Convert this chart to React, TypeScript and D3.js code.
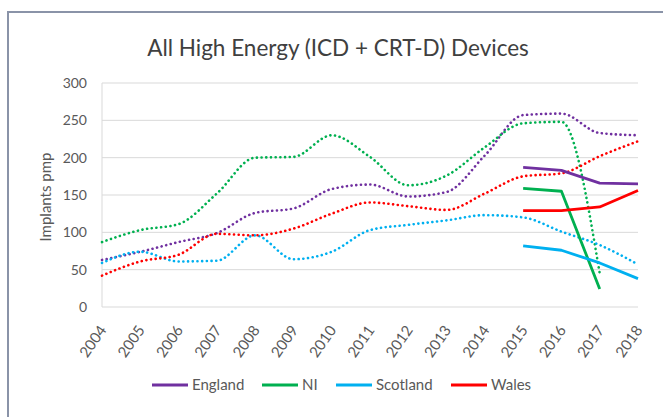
import React from "react";
import * as d3 from "d3";

const years = ["2004", "2005", "2006", "2007", "2008", "2009", "2010", "2011", "2012", "2013", "2014", "2015", "2016", "2017", "2018"];
const yTicks = [0, 50, 100, 150, 200, 250, 300];

// dotted series: 2004-2018
const englandDotted = [63, 74, 87, 99, 126, 132, 158, 164, 148, 154, 203, 257, 259, 233, 230];
const niDotted = [87, 103, 111, 152, 200, 201, 230, 201, 163, 176, 214, 246, 248, 45, null];
const scotlandDotted = [59, 74, 61, 62, 96, 64, 74, 103, 110, 116, 123, 120, 101, 83, 57];
const walesDotted = [42, 61, 70, 98, 96, 105, 125, 140, 135, 130, 152, 175, 179, 202, 222];

// solid series: 2015-2018
const solidYears = ["2015", "2016", "2017", "2018"];
const englandSolid = [187, 183, 166, 165];
const niSolid = [159, 155, 24, null];
const scotlandSolid = [82, 76, 59, 38];
const walesSolid = [129, 129, 134, 156];

const seriesNames = ["England", "NI", "Scotland", "Wales"];
const colors = ["#7030A0", "#00B050", "#00B0F0", "#FF0000"];

const FONT = "Lato, 'Open Sans', sans-serif";

export default function App() {
  const x = d3.scalePoint<string>().domain(years).range([102, 638]);
  const y = d3.scaleLinear().domain([0, 300]).range([307, 83]);

  const dottedLine = d3
    .line<number | null>()
    .defined((d) => d != null)
    .x((_, i) => x(years[i]) as number)
    .y((d) => y(d as number))
    .curve(d3.curveMonotoneX);

  const solidLine = d3
    .line<number | null>()
    .defined((d) => d != null)
    .x((_, i) => x(solidYears[i]) as number)
    .y((d) => y(d as number));

  const dotted = [englandDotted, niDotted, scotlandDotted, walesDotted];
  const solid = [englandSolid, niSolid, scotlandSolid, walesSolid];

  const legendX = [152, 262, 336, 451];

  return (
    <svg width={663} height={417} style={{ position: "absolute", left: 0, top: 0, background: "#fff" }}>
      <rect x={0} y={0} width={663} height={417} fill="#fff" />
      {/* outer frame */}
      <path d="M8,417 V12 H663" fill="none" stroke="#8a93a8" strokeWidth={2} />

      <text x={338} y={56} textAnchor="middle" fontFamily={FONT} fontSize={22.5} fill="#404040">
        All High Energy (ICD + CRT-D) Devices
      </text>

      {/* gridlines */}
      {yTicks.map((t) => (
        <line key={t} x1={102} x2={638} y1={y(t)} y2={y(t)} stroke="#d9d9d9" strokeWidth={1} />
      ))}
      <line x1={102} x2={102} y1={y(300)} y2={y(0)} stroke="#d9d9d9" strokeWidth={1} />

      {yTicks.map((t) => (
        <text key={t} x={87} y={y(t)} dy="0.35em" textAnchor="end" fontFamily={FONT} fontSize={14} fill="#595959">
          {t}
        </text>
      ))}

      <text
        transform={`translate(51,197) rotate(-90)`}
        textAnchor="middle"
        fontFamily={FONT}
        fontSize={15}
        fill="#595959"
      >
        Implants pmp
      </text>

      {years.map((yr) => (
        <text
          key={yr}
          transform={`translate(${(x(yr) as number) + 1},327) rotate(-55)`}
          textAnchor="end"
          dy="0.35em"
          fontFamily={FONT}
          fontSize={15}
          fill="#595959"
        >
          {yr}
        </text>
      ))}

      {dotted.map((d, i) => (
        <path
          key={"d" + i}
          d={dottedLine(d) || ""}
          fill="none"
          stroke={colors[i]}
          strokeWidth={2.6}
          strokeDasharray="0.1 4.6"
          strokeLinecap="round"
        />
      ))}

      {solid.map((d, i) => (
        <path
          key={"s" + i}
          d={solidLine(d) || ""}
          fill="none"
          stroke={colors[i]}
          strokeWidth={2.8}
          strokeLinejoin="round"
        />
      ))}

      {seriesNames.map((name, i) => (
        <g key={name} transform={`translate(${legendX[i]},385)`}>
          <line x1={0} x2={36} y1={0} y2={0} stroke={colors[i]} strokeWidth={3} />
          <text x={40} y={0} dy="0.35em" fontFamily={FONT} fontSize={15} fill="#595959">
            {name}
          </text>
        </g>
      ))}
    </svg>
  );
}
